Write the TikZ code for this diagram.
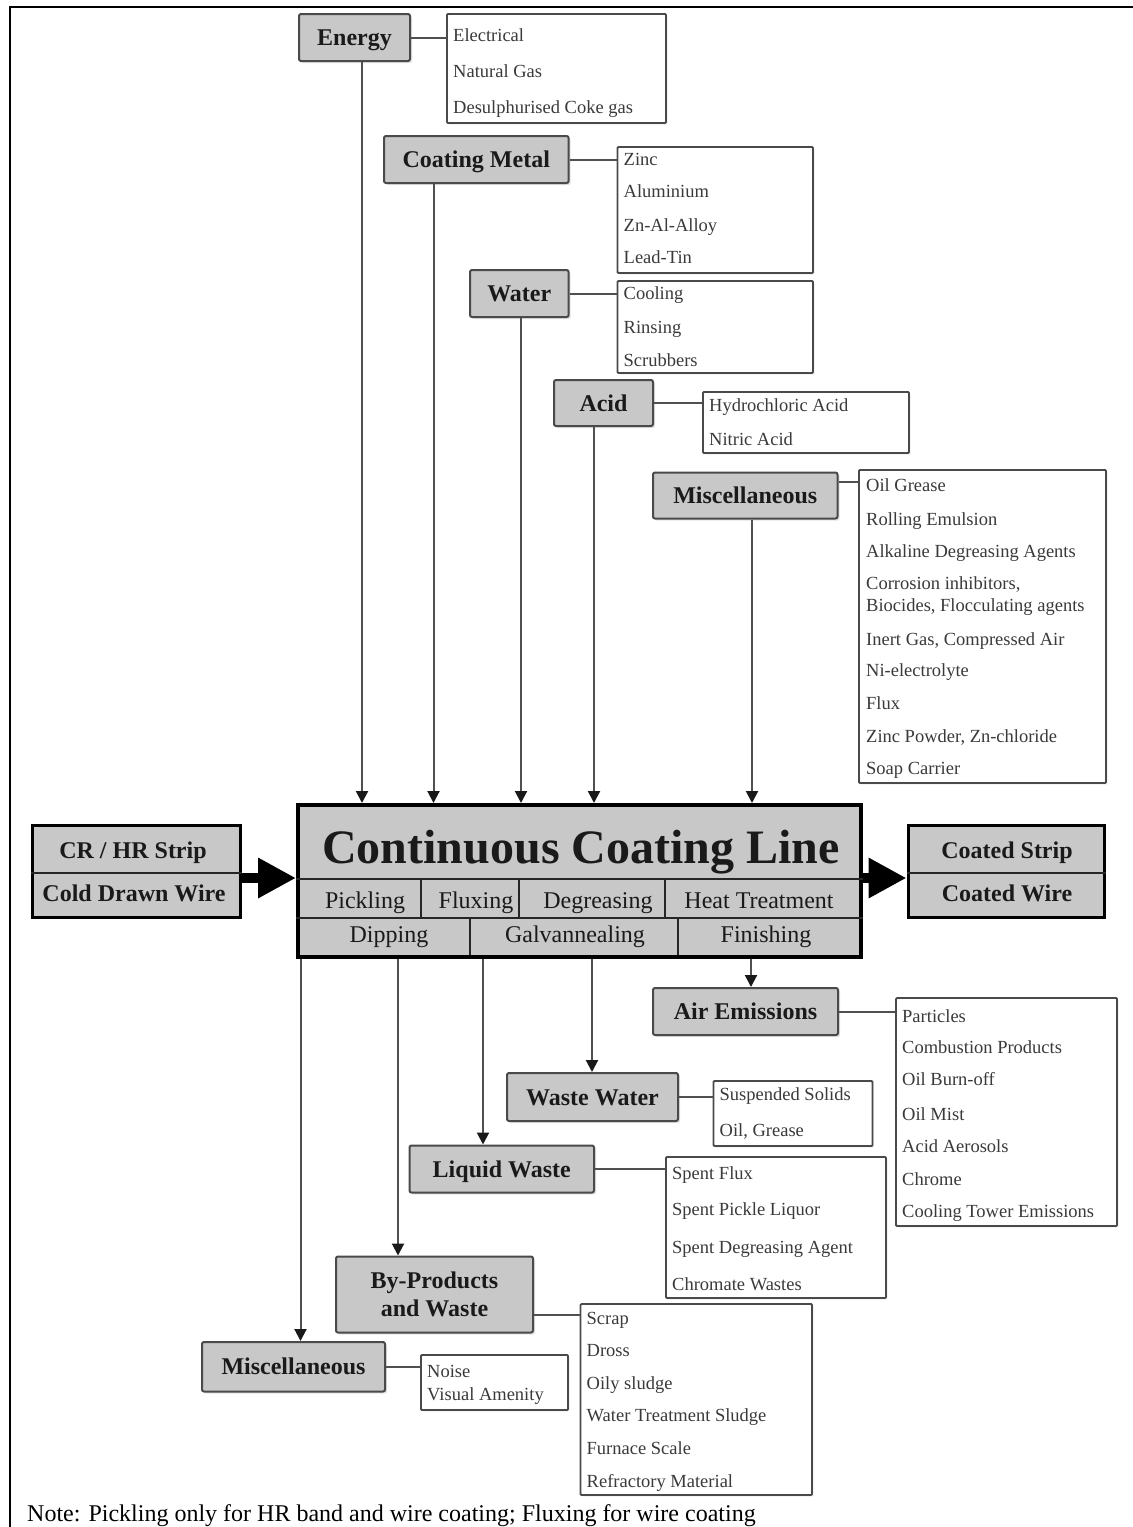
\documentclass[tikz,border=0pt]{standalone}
\usepackage{fontspec}
\setmainfont{Liberation Serif}
\usetikzlibrary{arrows.meta,shadows,calc}
\definecolor{boxg}{HTML}{C8C8C8}
\definecolor{bordc}{HTML}{4A4A4A}
\definecolor{linec}{HTML}{505050}
\definecolor{txtc}{HTML}{1A1A1A}
\definecolor{itmc}{HTML}{3A3A3A}
\newcommand{\lblfont}{\fontsize{24}{28}\selectfont\bfseries}
\newcommand{\itmfont}{\fontsize{18.5}{22}\selectfont}
\newcommand{\rowfont}{\fontsize{24}{28}\selectfont}
\tikzset{
  lbl/.style={draw=bordc, line width=2pt, fill=boxg, rounded corners=2pt, inner sep=0pt,
    text=txtc, font=\lblfont, drop shadow={shadow xshift=2pt,shadow yshift=-2pt,fill=black!22}},
  lblone/.style={lbl, text height=16pt, text depth=0pt},
  lblt/.style={inner sep=0pt, text=txtc, font=\lblfont, text height=16pt, text depth=0pt},
  lst/.style={draw=bordc, line width=1.8pt, fill=white, rounded corners=1pt, inner sep=0pt,
    drop shadow={shadow xshift=1.5pt,shadow yshift=-1.5pt,fill=black!15}},
  itm/.style={anchor=west, inner sep=0pt, font=\itmfont, text=itmc, text height=12pt, text depth=0pt},
  rowt/.style={anchor=base, inner sep=0pt, font=\rowfont, text=txtc},
  conn/.style={draw=linec, line width=2pt},
  arr/.style={conn, -{Triangle[width=12pt,length=12pt,color=black!90]}},
  div/.style={draw=black!85, line width=2pt},
  bigarr/.style={draw=black, line width=10pt, -{Triangle[width=38pt,length=38pt]}},
  heavybox/.style={draw=black, line width=3pt, fill=boxg, inner sep=0pt,
    drop shadow={shadow xshift=2pt,shadow yshift=-2pt,fill=black!22}},
}
\begin{document}
\begin{tikzpicture}[x=1pt,y=-1pt]
\useasboundingbox (0,0) rectangle (1133,1527);
% frame
\draw[line width=2.5pt, line join=miter] (10,1535) -- (10,7) -- (1140,7);

% ---------- input labels ----------
\node[lblone, minimum width=111pt, minimum height=47pt] (energy) at (354.5,37.5) {Energy};
\node[lst, minimum width=219pt, minimum height=109pt] (enL) at (556.5,68.5) {};
\node[itm] (en1) at (453,35) {Electrical};
\node[itm] (en2) at (453,71) {Natural Gas};
\node[itm] (en3) at (453,107) {Desulphurised Coke gas};

\node[lblone, minimum width=184.6pt, minimum height=47pt] (coat) at (476.3,159.5) {Coating Metal};
\node[lst, minimum width=195.5pt, minimum height=126pt] (coL) at (715.25,210) {};
\node[itm] (co1) at (623.5,159) {Zinc};
\node[itm] (co2) at (623.5,191) {Aluminium};
\node[itm] (co3) at (623.5,225) {Zn-Al-Alloy};
\node[itm] (co4) at (623.5,257) {Lead-Tin};

\node[lblone, minimum width=98.6pt, minimum height=47pt] (water) at (519.3,293.5) {Water};
\node[lst, minimum width=195.5pt, minimum height=92pt] (waL) at (715.25,327) {};
\node[itm] (wa1) at (623.5,293) {Cooling};
\node[itm] (wa2) at (623.5,327) {Rinsing};
\node[itm] (wa3) at (623.5,360) {Scrubbers};

\node[lblone, minimum width=99pt, minimum height=46pt] (acid) at (603.5,403) {Acid};
\node[lst, minimum width=206pt, minimum height=61pt] (acL) at (806,422.5) {};
\node[itm] (ac1) at (709,405) {Hydrochloric Acid};
\node[itm] (ac2) at (709,439) {Nitric Acid};

\node[lblone, minimum width=184.5pt, minimum height=46pt] (misc) at (745.25,495.5) {Miscellaneous};
\node[lst, minimum width=247pt, minimum height=313pt] (miL) at (982.5,626.5) {};
\node[itm] (mi1) at (866,485) {Oil Grease};
\node[itm] (mi2) at (866,519) {Rolling Emulsion};
\node[itm] (mi3) at (866,551) {Alkaline Degreasing Agents};
\node[itm] (mi4) at (866,583) {Corrosion inhibitors,};
\node[itm] (mi5) at (866,605) {Biocides, Flocculating agents};
\node[itm] (mi6) at (866,639) {Inert Gas, Compressed Air};
\node[itm] (mi7) at (866,670) {Ni-electrolyte};
\node[itm] (mi8) at (866,703) {Flux};
\node[itm] (mi9) at (866,736) {Zinc Powder, Zn-chloride};
\node[itm] (mi10) at (866,768) {Soap Carrier};

% ---------- main line ----------
\node[draw=black, line width=4pt, fill=boxg, inner sep=0pt, minimum width=563pt, minimum height=152pt] (ccl) at (579.5,881) {};
\node[anchor=base, inner sep=0pt, font=\fontsize{48}{52}\selectfont\bfseries, text=txtc] (title) at (581,863) {Continuous Coating Line};
\coordinate (r1) at (0,879);
\coordinate (r2) at (0,918);
\draw[div] (ccl.west |- r1) -- (ccl.east |- r1);
\draw[div] (ccl.west |- r2) -- (ccl.east |- r2);
\foreach \xx in {421,519,665} \draw[div] (\xx,879) -- (\xx,918);
\foreach \xx in {470,678} \draw[div] (\xx,918) -- (\xx,955);
\node[rowt] (pk) at (365,908) {Pickling};
\node[rowt] (fx) at (476,908) {Fluxing};
\node[rowt] (dg) at (598,908) {Degreasing};
\node[rowt] (ht) at (759,908) {Heat Treatment};
\node[rowt] (dp) at (389,942) {Dipping};
\node[rowt] (gv) at (575,942) {Galvannealing};
\node[rowt] (fn) at (766,942) {Finishing};

% input / output product boxes
\node[heavybox, minimum width=208pt, minimum height=92pt] (inbox) at (136,871) {};
\coordinate (dv) at (0,873);
\draw[line width=2.5pt, draw=black!85] (inbox.west |- dv) -- (inbox.east |- dv);
\node[lblt] (cr) at (133,850) {CR / HR Strip};
\node[lblt] (cw) at (134,893) {Cold Drawn Wire};

\node[heavybox, minimum width=196pt, minimum height=92pt] (outbox) at (1006,871) {};
\draw[line width=2.5pt, draw=black!85] (outbox.west |- dv) -- (outbox.east |- dv);
\node[lblt] (cs) at (1007,850) {Coated Strip};
\node[lblt] (cwo) at (1007,893) {Coated Wire};

\coordinate (ay) at (0,878);
\draw[bigarr] (inbox.east |- ay) -- (ccl.west |- ay);
\draw[bigarr] (ccl.east |- ay) -- (outbox.west |- ay);

% ---------- output labels ----------
\node[lblone, minimum width=185pt, minimum height=47pt] (air) at (745.5,1011.5) {Air Emissions};
\node[lst, minimum width=221pt, minimum height=228pt] (aiL) at (1006.5,1112) {};
\node[itm] (ai1) at (902,1016) {Particles};
\node[itm] (ai2) at (902,1047) {Combustion Products};
\node[itm] (ai3) at (902,1079) {Oil Burn-off};
\node[itm] (ai4) at (902,1114) {Oil Mist};
\node[itm] (ai5) at (902,1146) {Acid Aerosols};
\node[itm] (ai6) at (902,1179) {Chrome};
\node[itm] (ai7) at (902,1211) {Cooling Tower Emissions};

\node[lblone, minimum width=171pt, minimum height=48pt] (ww) at (592.5,1097) {Waste Water};
\node[lst, minimum width=159pt, minimum height=65pt] (wwL) at (793,1113.5) {};
\node[itm] (ww1) at (719.5,1094) {Suspended Solids};
\node[itm] (ww2) at (719.5,1130) {Oil, Grease};

\node[lblone, minimum width=184.5pt, minimum height=47pt] (lw) at (501.75,1169) {Liquid Waste};
\node[lst, minimum width=220pt, minimum height=141pt] (lwL) at (776,1227.5) {};
\node[itm] (lw1) at (672,1173) {Spent Flux};
\node[itm] (lw2) at (672,1209.5) {Spent Pickle Liquor};
\node[itm] (lw3) at (672,1247.5) {Spent Degreasing Agent};
\node[itm] (lw4) at (672,1284) {Chromate Wastes};

\node[lbl, align=center, minimum width=197pt, minimum height=76pt] (bp) at (434.5,1294.5) {By-Products\\and Waste};
\node[lst, minimum width=231.5pt, minimum height=191pt] (bpL) at (696.25,1399.5) {};
\node[itm] (bp1) at (586.5,1318) {Scrap};
\node[itm] (bp2) at (586.5,1350.6) {Dross};
\node[itm] (bp3) at (586.5,1383) {Oily sludge};
\node[itm] (bp4) at (586.5,1415.7) {Water Treatment Sludge};
\node[itm] (bp5) at (586.5,1448) {Furnace Scale};
\node[itm] (bp6) at (586.5,1481) {Refractory Material};

\node[lblone, minimum width=183pt, minimum height=49.5pt] (mis2) at (293.5,1366.75) {Miscellaneous};
\node[lst, minimum width=147pt, minimum height=55pt] (m2L) at (494.5,1382.5) {};
\node[itm] (m21) at (427,1371.6) {Noise};
\node[itm] (m22) at (427,1394) {Visual Amenity};

% ---------- connectors: labels to lists ----------
\draw[conn] (energy.east) -- (energy.east -| enL.west);
\draw[conn] (coat.east) -- (coat.east -| coL.west);
\draw[conn] (water.east) -- (water.east -| waL.west);
\draw[conn] (acid.east) -- (acid.east -| acL.west);
\coordinate (mc) at ($(misc.north east)+(0,10)$);
\draw[conn] (mc) -- (mc -| miL.west);
\draw[conn] (air.east) -- (air.east -| aiL.west);
\draw[conn] (ww.east) -- (ww.east -| wwL.west);
\draw[conn] (lw.east) -- (lw.east -| lwL.west);
\coordinate (bc) at ($(bp.north east)+(0,59.5)$);
\draw[conn] (bc) -- (bc -| bpL.west);
\draw[conn] (mis2.east) -- (mis2.east -| m2L.west);

% ---------- connectors: inputs to line ----------
\coordinate (xE) at (362,0);
\coordinate (xC) at (433.5,0);
\coordinate (xW) at (521,0);
\coordinate (xA) at (594,0);
\coordinate (xM) at (752,0);
\draw[arr] (xE |- energy.south) -- (xE |- ccl.north);
\draw[arr] (xC |- coat.south) -- (xC |- ccl.north);
\draw[arr] (xW |- water.south) -- (xW |- ccl.north);
\draw[arr] (xA |- acid.south) -- (xA |- ccl.north);
\draw[arr] (xM |- misc.south) -- (xM |- ccl.north);

% ---------- connectors: line to outputs ----------
\coordinate (oA) at (751,0);
\coordinate (oW) at (592,0);
\coordinate (oL) at (483,0);
\coordinate (oB) at (398,0);
\coordinate (oM) at (300.5,0);
\draw[arr] (oA |- ccl.south) -- (oA |- air.north);
\draw[arr] (oW |- ccl.south) -- (oW |- ww.north);
\draw[arr] (oL |- ccl.south) -- (oL |- lw.north);
\draw[arr] (oB |- ccl.south) -- (oB |- bp.north);
\draw[arr] (oM |- ccl.south) -- (oM |- mis2.north);

% note
\node[anchor=base west, inner sep=0pt, font=\fontsize{24}{28}\selectfont, text=black] (note) at (27,1521) {Note: Pickling only for HR band and wire coating; Fluxing for wire coating};
\end{tikzpicture}
\end{document}
